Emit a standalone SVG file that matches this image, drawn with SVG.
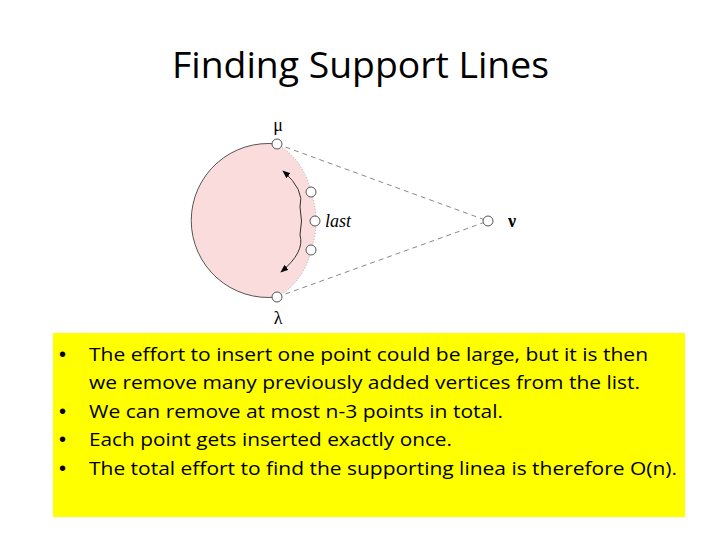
<svg xmlns="http://www.w3.org/2000/svg" width="720" height="540" viewBox="0 0 720 540">
<style>
.t{font-family:"Open Sans","Liberation Sans",sans-serif;fill:#000}
.b{font-family:"Open Sans","Liberation Sans",sans-serif;font-size:18.5px;fill:#000}
.d{font-family:"Liberation Sans",sans-serif;font-size:20px;fill:#000}
.pt{fill:#fff;stroke:#555;stroke-width:1}
.g{font-family:"Liberation Serif",serif;font-size:18px;fill:#000}
</style>
<defs>
<marker id="ah" viewBox="0 0 10 10" refX="9" refY="5" markerWidth="8" markerHeight="8" orient="auto" markerUnits="userSpaceOnUse">
<path d="M0,1 L10,5 L0,9 Z" fill="#000"/>
</marker>
</defs>
<rect width="720" height="540" fill="#fff"/>
<text class="t" x="172" y="78" font-size="36" textLength="377" lengthAdjust="spacingAndGlyphs">Finding Support Lines</text>
<g id="hull">
<path d="M277,144 Q304,160 311,192 Q316,206 316,221 Q316,236 311,250 Q304,282 277,297 A77,77 0 1 1 277,144 Z" fill="#fbdcdc" stroke="none"/>
<path d="M277,297 A77,77 0 1 1 277,144" fill="none" stroke="#555" stroke-width="1"/>
<path d="M277,144 Q304,160 311,192 Q316,206 316,221 Q316,236 311,250 Q304,282 277,297" fill="none" stroke="#aaa" stroke-width="1" stroke-dasharray="1,2"/>
</g>
<g id="connectors">
<line x1="277" y1="144" x2="488" y2="221" stroke="#888" stroke-width="1" stroke-dasharray="5,4"/>
<line x1="277" y1="297" x2="488" y2="221" stroke="#888" stroke-width="1" stroke-dasharray="5,4"/>
<path d="M300,207 Q305,190 283,171" fill="none" stroke="#333" stroke-width="1" marker-end="url(#ah)"/>
<path d="M300,235 Q305,252 281,272" fill="none" stroke="#333" stroke-width="1" marker-end="url(#ah)"/>
<path d="M300,207 Q303,221 300,235" fill="none" stroke="#333" stroke-width="1"/>
</g>
<g id="mu"><circle class="pt" cx="277" cy="144" r="5"/><text class="g" x="278" y="131" text-anchor="middle">μ</text></g>
<g id="p1"><circle class="pt" cx="311" cy="192" r="5"/></g>
<g id="last"><circle class="pt" cx="315" cy="221" r="5"/><text class="g" x="325" y="227" font-style="italic">last</text></g>
<g id="p3"><circle class="pt" cx="311" cy="250" r="5"/></g>
<g id="lambda"><circle class="pt" cx="277" cy="297" r="5"/><text class="g" x="278" y="324" text-anchor="middle">λ</text></g>
<g id="nu"><circle class="pt" cx="488" cy="221" r="5"/><text class="g" x="512" y="227" text-anchor="middle" font-weight="bold">ν</text></g>
<g id="notes">
<rect x="53" y="333" width="632" height="184" fill="#ffff00"/>
<text class="d" x="59" y="361">•</text>
<text class="b" x="89" y="361" textLength="559" lengthAdjust="spacingAndGlyphs">The effort to insert one point could be large, but it is then</text>
<text class="b" x="89" y="389" textLength="551" lengthAdjust="spacingAndGlyphs">we remove many previously added vertices from the list.</text>
<text class="d" x="59" y="418">•</text>
<text class="b" x="89" y="418" textLength="414" lengthAdjust="spacingAndGlyphs">We can remove at most n-3 points in total.</text>
<text class="d" x="59" y="446">•</text>
<text class="b" x="89" y="446" textLength="363" lengthAdjust="spacingAndGlyphs">Each point gets inserted exactly once.</text>
<text class="d" x="59" y="475">•</text>
<text class="b" x="89" y="475" textLength="588" lengthAdjust="spacingAndGlyphs">The total effort to find the supporting linea is therefore O(n).</text>
</g>
</svg>
